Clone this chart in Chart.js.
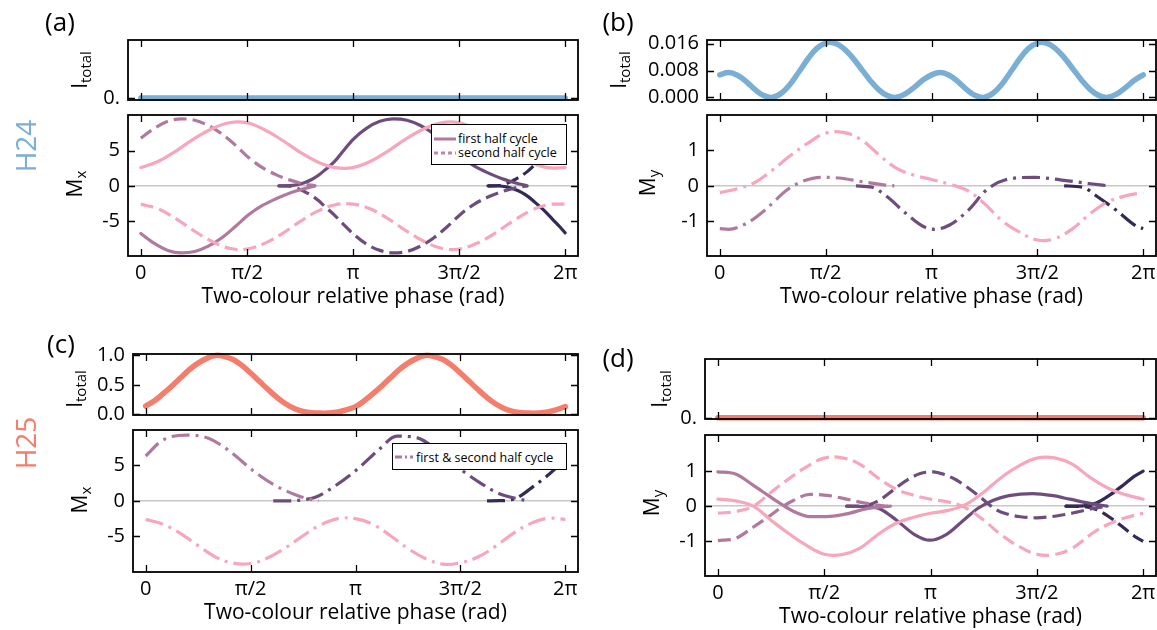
<!DOCTYPE html>
<html><head><meta charset="utf-8">
<script src="https://cdn.jsdelivr.net/npm/chart.js@4.4.1/dist/chart.umd.min.js"></script>
<style>
html,body{margin:0;padding:0;background:#fff;}
body{width:1157px;height:630px;position:relative;overflow:hidden;font-family:'Open Sans',sans-serif;color:#000;}
canvas{position:absolute;}
.lbl{position:absolute;white-space:nowrap;transform:translate(-50%,-50%);line-height:1;z-index:6;}
.rot{transform:translate(-50%,-50%) rotate(-90deg);}
.yt{font-size:21px;}
.yt sub{font-size:15px;vertical-align:-4px;}
.panel{font-size:26px;}
.harm{font-size:28px;}
.legend{position:absolute;background:#fff;border:1.5px solid #000;box-sizing:border-box;z-index:10;font-size:12.5px;}
.legend .row{position:absolute;left:0;height:14px;transform:translateY(-50%);display:flex;align-items:center;white-space:nowrap;}
.legend svg{display:block;}
</style></head><body>

<div class="lbl panel" style="left:60px;top:21px">(a)</div>
<div class="lbl panel" style="left:618px;top:21px">(b)</div>
<div class="lbl panel" style="left:61px;top:343px">(c)</div>
<div class="lbl panel" style="left:618px;top:357px">(d)</div>
<div class="lbl rot harm" style="left:25px;top:146px;color:#7aaed4">H24</div>
<div class="lbl rot harm" style="left:25px;top:443px;color:#f57d6c">H25</div>

<div class="lbl rot yt" style="left:81px;top:70px">I<sub>total</sub></div>
<div class="lbl rot yt" style="left:76px;top:184px">M<sub>x</sub></div>
<div class="lbl rot yt" style="left:620px;top:70px">I<sub>total</sub></div>
<div class="lbl rot yt" style="left:649px;top:183px">M<sub>y</sub></div>
<div class="lbl rot yt" style="left:76px;top:389px">I<sub>total</sub></div>
<div class="lbl rot yt" style="left:81px;top:500px">M<sub>x</sub></div>
<div class="lbl rot yt" style="left:661px;top:389px">I<sub>total</sub></div>
<div class="lbl rot yt" style="left:653px;top:503px">M<sub>y</sub></div>

<div class="legend" style="left:431px;top:124px;width:136px;height:41px;">
  <div class="row" style="top:13.5px"><svg width="26" height="6"><line x1="2" y1="3" x2="24" y2="3" stroke="#b07a9f" stroke-width="3"/></svg><span>first half cycle</span></div>
  <div class="row" style="top:27.5px"><svg width="26" height="6"><line x1="2" y1="3" x2="24" y2="3" stroke="#c285a9" stroke-width="3" stroke-dasharray="4,3"/></svg><span>second half cycle</span></div>
</div>
<div class="legend" style="left:392px;top:443px;width:175px;height:27px;">
  <div class="row" style="top:13px"><svg width="23" height="6"><line x1="2" y1="3" x2="20" y2="3" stroke="#b07a9f" stroke-width="3" stroke-dasharray="7,3,2,3"/></svg><span>first &amp; second half cycle</span></div>
</div>

<script>
// ---------- axes ----------
const xTickValues = [0, 1.5708, 3.1416, 4.7124, 6.2832];
const xTickLabels = ['0', 'π/2', 'π', '3π/2', '2π'];
const xTitle = 'Two-colour relative phase (rad)';

// ---------- phase grids (rad) ----------
const phase = [0, 0.2618, 0.5236, 0.7854, 1.0472, 1.309, 1.5708, 1.8326, 2.0944, 2.3562, 2.618, 2.8798, 3.1416, 3.4034, 3.6652, 3.927, 4.1888, 4.4506, 4.7124, 4.9742, 5.236, 5.4978, 5.7596, 6.0214, 6.2832];
const phaseFine = [0, 0.1309, 0.2618, 0.3927, 0.5236, 0.6545, 0.7854, 0.9163, 1.0472, 1.1781, 1.309, 1.4399, 1.5708, 1.7017, 1.8326, 1.9635, 2.0944, 2.2253, 2.3562, 2.4871, 2.618, 2.7489, 2.8798, 3.0107, 3.1416, 3.2725, 3.4034, 3.5343, 3.6652, 3.7961, 3.927, 4.0579, 4.1888, 4.3197, 4.4506, 4.5815, 4.7124, 4.8433, 4.9742, 5.1051, 5.236, 5.3669, 5.4978, 5.6287, 5.7596, 5.8905, 6.0214, 6.1523, 6.2832];

// ---------- (a) H24, M_x ----------
const aItotal = [0,0,0,0,0,0,0,0,0,0,0,0,0,0,0,0,0,0,0,0,0,0,0,0,0];
const aPinkSolid = [2.6, 3.5, 5.0, 6.7, 8.1, 9.0, 9.0, 8.0, 6.5, 4.8, 3.4, 2.6, 2.6, 3.5, 5.0, 6.7, 8.1, 9.0, 9.0, 8.0, 6.5, 4.8, 3.4, 2.6, 2.6];
const aPinkDashed = [-2.6, -3.3, -4.7, -6.4, -7.9, -8.9, -9.0, -8.2, -6.8, -5.1, -3.6, -2.7, -2.6, -3.3, -4.7, -6.4, -7.9, -8.9, -9.0, -8.2, -6.8, -5.1, -3.6, -2.7, -2.6];
const aMauveX = [0, 0.2, 0.4, 0.6, 0.8, 1.0, 1.2, 1.4, 1.6, 1.8, 2.0, 2.2, 2.4, 2.58];
const aMauveSolid = [-6.8, -8.2, -9.2, -9.55, -9.35, -8.6, -7.4, -5.8, -4.1, -2.8, -1.85, -1.05, -0.45, 0];
const aMauveDashed = [6.8, 8.2, 9.2, 9.55, 9.35, 8.6, 7.4, 5.8, 4.0, 2.6, 1.6, 0.85, 0.3, 0];
const aPurpleX = [2.04, 2.2, 2.31, 2.42, 2.53, 2.63, 2.73, 2.87, 3.0, 3.14, 3.34, 3.54, 3.74, 3.94, 4.14, 4.34, 4.54, 4.74, 4.94, 5.14, 5.34, 5.54, 5.72];
const aPurpleSolid = [0, 0.02, 0.15, 0.45, 0.9, 1.5, 2.3, 3.5, 5.0, 6.6, 8.2, 9.2, 9.55, 9.35, 8.6, 7.4, 5.8, 4.1, 2.8, 1.85, 1.05, 0.45, 0];
const aPurpleDashed = [0, -0.05, -0.3, -0.8, -1.4, -2.1, -3.0, -4.2, -5.5, -6.8, -8.3, -9.2, -9.55, -9.35, -8.6, -7.4, -5.8, -4.0, -2.6, -1.6, -0.85, -0.3, 0];
const aNavyX = [5.14, 5.3, 5.41, 5.52, 5.63, 5.73, 5.83, 5.97, 6.1, 6.2, 6.2832];
const aNavySolid = [0, -0.02, -0.15, -0.45, -0.9, -1.5, -2.3, -3.5, -4.8, -5.8, -6.7];
const aNavyDashed = [0, 0.05, 0.3, 0.8, 1.4, 2.1, 3.0, 4.2, 5.3, 6.1, 6.8];

// ---------- (b) H24, M_y ----------
const bItotal = [0.0067, 0.0074, 0.0066, 0.0047, 0.0023, 0.0005, 0.0000, 0.0013, 0.0040, 0.0077, 0.0115, 0.0146, 0.0162, 0.0162, 0.0147, 0.0120, 0.0086, 0.0052, 0.0023, 0.0005, 0.0000, 0.0010, 0.0029, 0.0051,
                 0.0067, 0.0074, 0.0066, 0.0047, 0.0023, 0.0005, 0.0000, 0.0013, 0.0040, 0.0077, 0.0115, 0.0146, 0.0162, 0.0162, 0.0147, 0.0120, 0.0086, 0.0052, 0.0023, 0.0005, 0.0000, 0.0010, 0.0029, 0.0051, 0.0067];
const bPink = [-0.19, -0.08, 0.1, 0.45, 0.85, 1.2, 1.48, 1.5, 1.3, 0.88, 0.5, 0.3, 0.18, 0.05, -0.12, -0.5, -0.98, -1.3, -1.52, -1.48, -1.2, -0.78, -0.45, -0.28, -0.19];
const bMauveX = [0, 0.13, 0.4, 0.67, 1.0, 1.22, 1.5, 1.77, 2.1, 2.43, 2.59];
const bMauve = [-1.2, -1.22, -1.05, -0.68, -0.11, 0.12, 0.24, 0.22, 0.12, 0.03, 0];
const bPurpleX = [2.02, 2.26, 2.48, 2.76, 3.03, 3.19, 3.41, 3.69, 3.96, 4.24, 4.67, 5.05, 5.5, 5.77];
const bPurple = [0, -0.04, -0.3, -0.77, -1.15, -1.22, -1.1, -0.68, -0.11, 0.17, 0.24, 0.17, 0.06, 0];
const bNavyX = [5.11, 5.39, 5.6, 5.88, 6.18, 6.2832];
const bNavy = [0, -0.04, -0.3, -0.68, -1.13, -1.2];

// ---------- (c) H25, M_x ----------
const cItotal = [0.14, 0.23, 0.35, 0.48, 0.62, 0.76, 0.87, 0.95, 1.0, 0.98, 0.93, 0.83, 0.70, 0.56, 0.42, 0.29, 0.18, 0.10, 0.05, 0.025, 0.02, 0.022, 0.04, 0.08,
                 0.13, 0.23, 0.35, 0.48, 0.62, 0.76, 0.87, 0.95, 1.0, 0.98, 0.93, 0.83, 0.70, 0.56, 0.42, 0.29, 0.18, 0.10, 0.05, 0.025, 0.02, 0.022, 0.04, 0.08, 0.13];
const cPink = [-2.6, -3.3, -4.6, -6.3, -7.9, -8.75, -8.8, -8.0, -6.6, -4.9, -3.4, -2.5, -2.5, -3.3, -4.9, -6.7, -8.1, -8.9, -8.7, -7.9, -6.4, -4.6, -3.2, -2.45, -2.6];
const cMauveX = [0, 0.25, 0.61, 0.94, 1.27, 1.6, 1.93, 2.26, 2.45, 2.59];
const cMauve = [6.3, 8.5, 9.25, 8.8, 6.9, 4.3, 2.2, 0.8, 0.25, 0];
const cPurpleX = [1.91, 2.1, 2.26, 2.4, 2.54, 2.82, 3.15, 3.48, 3.76, 4.05, 4.48, 4.75, 5.03, 5.25, 5.47, 5.72];
const cPurple = [0, 0, 0.05, 0.2, 0.5, 2.0, 4.3, 7.1, 9.1, 8.9, 6.2, 4.2, 2.4, 1.2, 0.5, 0];
const cNavyX = [5.11, 5.3, 5.47, 5.63, 5.8, 5.97, 6.13, 6.2832];
const cNavy = [0, 0.02, 0.15, 0.8, 2.0, 3.2, 4.5, 6.0];

// ---------- (d) H25, M_y ----------
const dItotal = [0,0,0,0,0,0,0,0,0,0,0,0,0,0,0,0,0,0,0,0,0,0,0,0,0];
const dPinkSolid = [0.2, 0.15, 0.0, -0.4, -0.78, -1.12, -1.37, -1.38, -1.2, -0.82, -0.5, -0.32, -0.2, -0.12, 0.05, 0.4, 0.82, 1.15, 1.37, 1.38, 1.2, 0.82, 0.52, 0.33, 0.2];
const dPinkDashed = [-0.2, -0.15, 0.0, 0.4, 0.78, 1.12, 1.37, 1.38, 1.2, 0.82, 0.5, 0.32, 0.2, 0.12, -0.05, -0.4, -0.82, -1.15, -1.37, -1.38, -1.2, -0.82, -0.52, -0.33, -0.2];
const dMauveX = [0, 0.26, 0.52, 0.75, 0.92, 1.1, 1.36, 1.65, 1.9, 2.2, 2.45, 2.55];
const dMauveSolid = [0.98, 0.92, 0.6, 0.3, 0.08, -0.13, -0.3, -0.29, -0.22, -0.07, -0.01, 0];
const dMauveDashed = [-0.98, -0.92, -0.6, -0.3, -0.06, 0.15, 0.34, 0.3, 0.2, 0.08, 0.01, 0];
const dPurpleSolidX = [1.9, 2.2, 2.39, 2.64, 2.9, 3.13, 3.38, 3.63, 3.85, 4.07, 4.3, 4.65, 4.95, 5.2, 5.5, 5.75];
const dPurpleSolid = [0, -0.01, -0.07, -0.4, -0.8, -0.97, -0.8, -0.4, -0.05, 0.17, 0.3, 0.36, 0.3, 0.2, 0.08, 0];
const dPurpleDashedX = [1.9, 2.15, 2.29, 2.45, 2.59, 2.8, 2.99, 3.18, 3.35, 3.53, 3.7, 3.87, 4.0, 4.12, 4.3, 4.47, 4.7, 5.0, 5.3, 5.55, 5.75];
const dPurpleDashed = [0, 0.01, 0.08, 0.25, 0.46, 0.75, 0.93, 0.98, 0.9, 0.74, 0.52, 0.27, 0.06, -0.11, -0.24, -0.3, -0.33, -0.28, -0.17, -0.06, 0];
const dNavyX = [5.14, 5.4, 5.6, 5.8, 6.0, 6.15, 6.2832];
const dNavySolid = [0, 0.01, 0.1, 0.33, 0.62, 0.85, 1.0];
const dNavyDashed = [0, -0.01, -0.1, -0.33, -0.62, -0.85, -1.0];

// ---------- styles ----------
const C = { pink: '#f7a6bb', mauve: '#b07a9f', purple: '#6e4d7c', navy: '#332a58', blue: '#7aaed4', salmon: '#f57d6c' };
const DASH = [13, 6];
const DASHDOT = [18, 6, 3, 6];
const FONT = "'Open Sans', sans-serif";
const LW = 3.2;

function pts(xs, ys) { return xs.map((x, i) => ({ x: x, y: ys[i] })); }
function line(xs, ys, color, width, dash, smooth) {
  return {
    data: pts(xs, ys), borderColor: color, borderWidth: width, borderDash: dash || [],
    pointRadius: 0, fill: false, clip: 5,
    tension: smooth === 'spline' ? 0.4 : 0,
    cubicInterpolationMode: smooth === 'spline' ? 'default' : 'monotone',
    borderCapStyle: (dash && dash.length) ? 'butt' : 'round', borderJoinStyle: 'round'
  };
}

const framePlugin = {
  id: 'frame',
  afterDatasetsDraw(chart, args, o) {
    const { ctx, chartArea: a, scales } = chart;
    ctx.save();
    ctx.strokeStyle = '#000';
    ctx.lineWidth = 1.3;
    const tl = 7;
    ctx.beginPath();
    xTickValues.forEach(v => {
      const px = Math.round(scales.x.getPixelForValue(v)) + 0.5;
      ctx.moveTo(px, a.bottom); ctx.lineTo(px, a.bottom - tl);
      ctx.moveTo(px, a.top); ctx.lineTo(px, a.top + tl);
    });
    o.yTicks.forEach(v => {
      const py = Math.round(scales.y.getPixelForValue(v)) + 0.5;
      ctx.moveTo(a.left, py); ctx.lineTo(a.left + tl, py);
      ctx.moveTo(a.right, py); ctx.lineTo(a.right - tl, py);
    });
    ctx.stroke();
    ctx.lineWidth = 1.8;
    ctx.strokeRect(a.left, a.top, a.right - a.left, a.bottom - a.top);
    ctx.restore();
  }
};

function makeChart(c) {
  const [L, T, R, B] = c.rect;
  const YW = 80, PT = 14, PR = 14;
  const XH = c.xLabels ? 54 : 0;
  const PB = c.xLabels ? 2 : 14;
  const w = YW + (R - L) + PR, h = PT + (B - T) + XH + PB;
  const cv = document.createElement('canvas');
  cv.width = w; cv.height = h;
  cv.style.left = (L - YW) + 'px'; cv.style.top = (T - PT) + 'px';
  cv.style.width = w + 'px'; cv.style.height = h + 'px';
  document.body.appendChild(cv);
  const zeroPad = s => { s.paddingLeft = 0; s.paddingRight = 0; s.paddingTop = 0; s.paddingBottom = 0; };
  return new Chart(cv, {
    type: 'line',
    data: { datasets: c.datasets },
    plugins: [framePlugin],
    options: {
      responsive: false, animation: false, events: [], devicePixelRatio: 1,
      layout: { padding: { left: 0, top: PT, right: PR, bottom: PB } },
      plugins: { legend: { display: false }, tooltip: { enabled: false }, frame: { yTicks: c.yTicks } },
      scales: {
        x: {
          type: 'linear', min: -0.19, max: 6.473,
          afterBuildTicks: s => { s.ticks = xTickValues.map(v => ({ value: v })); },
          afterFit: s => { s.height = XH; zeroPad(s); },
          ticks: { display: !!c.xLabels, autoSkip: false, maxRotation: 0, padding: 5, color: '#000',
                   font: { family: FONT, size: 20 }, callback: (v, i) => xTickLabels[i] },
          grid: { display: false, drawTicks: false },
          border: { display: false },
          title: { display: !!c.xLabels, text: xTitle, color: '#000', padding: 0, font: { family: FONT, size: 21 } }
        },
        y: {
          type: 'linear', min: c.yMin, max: c.yMax,
          afterBuildTicks: s => { s.ticks = c.yTicks.map(v => ({ value: v })); },
          afterFit: s => { s.width = YW; zeroPad(s); },
          ticks: { padding: 8, color: '#000', font: { family: FONT, size: 20 }, callback: (v, i) => c.yLabels[i] },
          grid: { display: !!c.zeroLine, drawTicks: false, lineWidth: 1.5,
                  color: ctx => (ctx.tick && ctx.tick.value === 0) ? '#c8c8c8' : 'rgba(0,0,0,0)' },
          border: { display: false }
        }
      }
    }
  });
}

// (a) top
makeChart({ rect: [128, 40, 578, 100], yMin: -0.035, yMax: 1, yTicks: [0], yLabels: ['0.'],
  datasets: [ line(phase, aItotal, C.blue, 5.5, null, 'spline') ] });
// (a) bottom
makeChart({ rect: [128, 115, 578, 256], xLabels: true, zeroLine: true, yMin: -10, yMax: 10.1, yTicks: [-5, 0, 5], yLabels: ['-5', '0', '5'],
  datasets: [
    line(phase, aPinkSolid, C.pink, LW, null, 'spline'),
    line(phase, aPinkDashed, C.pink, LW, DASH, 'spline'),
    line(aMauveX, aMauveSolid, C.mauve, LW),
    line(aMauveX, aMauveDashed, C.mauve, LW, DASH),
    line(aPurpleX, aPurpleSolid, C.purple, LW),
    line(aPurpleX, aPurpleDashed, C.purple, LW, DASH),
    line(aNavyX, aNavySolid, C.navy, LW),
    line(aNavyX, aNavyDashed, C.navy, LW, DASH)
  ] });
// (b) top
makeChart({ rect: [707, 40, 1156, 100], yMin: -0.0008, yMax: 0.0171, yTicks: [0, 0.008, 0.016], yLabels: ['0.000', '0.008', '0.016'],
  datasets: [ line(phaseFine, bItotal, C.blue, 5.5, null, 'spline') ] });
// (b) bottom
makeChart({ rect: [707, 115, 1156, 256], xLabels: true, zeroLine: true, yMin: -1.97, yMax: 1.99, yTicks: [-1, 0, 1], yLabels: ['-1', '0', '1'],
  datasets: [
    line(phase, bPink, C.pink, LW, DASHDOT, 'spline'),
    line(bMauveX, bMauve, C.mauve, LW, DASHDOT),
    line(bPurpleX, bPurple, C.purple, LW, DASHDOT),
    line(bNavyX, bNavy, C.navy, LW, DASHDOT)
  ] });
// (c) top
makeChart({ rect: [133, 354, 578, 415], yMin: -0.012, yMax: 1.024, yTicks: [0, 0.5, 1], yLabels: ['0.0', '0.5', '1.0'],
  datasets: [ line(phaseFine, cItotal, C.salmon, 5.5, null, 'spline') ] });
// (c) bottom
makeChart({ rect: [133, 430, 578, 572], xLabels: true, zeroLine: true, yMin: -10, yMax: 9.96, yTicks: [-5, 0, 5], yLabels: ['-5', '0', '5'],
  datasets: [
    line(phase, cPink, C.pink, LW, DASHDOT, 'spline'),
    line(cMauveX, cMauve, C.mauve, LW, DASHDOT),
    line(cPurpleX, cPurple, C.purple, LW, DASHDOT),
    line(cNavyX, cNavy, C.navy, LW, DASHDOT)
  ] });
// (d) top
makeChart({ rect: [705, 359, 1156, 419], yMin: -0.02, yMax: 1, yTicks: [0], yLabels: ['0.'],
  datasets: [ line(phase, dItotal, C.salmon, 5.5, null, 'spline') ] });
// (d) bottom
makeChart({ rect: [705, 435, 1156, 576], xLabels: true, zeroLine: true, yMin: -1.99, yMax: 2.03, yTicks: [-1, 0, 1], yLabels: ['-1', '0', '1'],
  datasets: [
    line(phase, dPinkSolid, C.pink, LW, null, 'spline'),
    line(phase, dPinkDashed, C.pink, LW, DASH, 'spline'),
    line(dMauveX, dMauveSolid, C.mauve, LW),
    line(dMauveX, dMauveDashed, C.mauve, LW, DASH),
    line(dPurpleSolidX, dPurpleSolid, C.purple, LW),
    line(dPurpleDashedX, dPurpleDashed, C.purple, LW, DASH),
    line(dNavyX, dNavySolid, C.navy, LW),
    line(dNavyX, dNavyDashed, C.navy, LW, DASH)
  ] });
</script>
</body></html>
